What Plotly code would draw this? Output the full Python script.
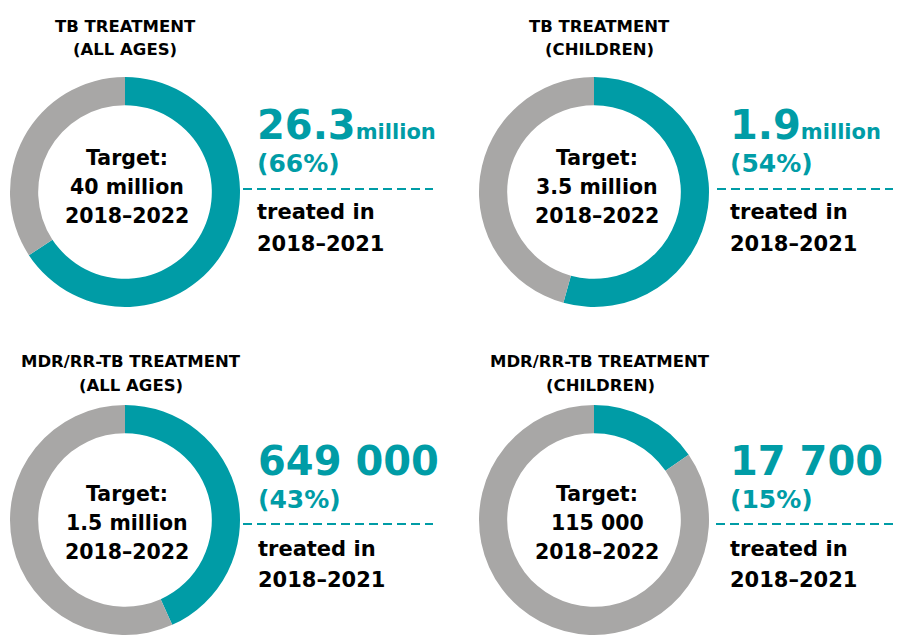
import plotly.graph_objects as go

# the page body adds an 8px margin, so the figure is drawn 8px smaller
PAGE_W, PAGE_H, BODY = 901, 635, 8
W, H = PAGE_W - BODY, PAGE_H - BODY

# data
title_lines = [["TB TREATMENT", "(ALL AGES)"], ["TB TREATMENT", "(CHILDREN)"],
               ["MDR/RR-TB TREATMENT", "(ALL AGES)"], ["MDR/RR-TB TREATMENT", "(CHILDREN)"]]
treated = [26.3e6, 1.9e6, 649000, 17700]
targets = [40e6, 3.5e6, 1.5e6, 115000]
big_labels = ["26.3", "1.9", "649 000", "17 700"]
unit_labels = ["million", "million", "", ""]
pct_labels = ["(66%)", "(54%)", "(43%)", "(15%)"]
target_labels = ["40 million", "3.5 million", "1.5 million", "115 000"]
target_period = "2018–2022"
treated_period = "2018–2021"

TEAL = "#009ca6"
GRAY = "#a8a7a6"
FONT = "DejaVu Sans"

# panel layout, in window pixels
centers = [(125, 192), (594, 192), (125, 520), (594, 520)]
R = 115
row_off = [0, 0, 336, 336]
text_x = [255, 728, 256, 728]
title_x = [125, 599, 131, 600]
centre_x = [127, 597, 127, 597]
dash_x = [(243, 433), (717, 901), (243, 433), (716, 901)]
dash_y = [189, 189, 524, 524]


def px(x):
    return (x - BODY) / W


def py(y):
    return 1 - (y - BODY) / H


fig = go.Figure()


def label(x, y, s, size, color="black", xanchor="center"):
    fig.add_annotation(xref="paper", yref="paper", showarrow=False,
                       x=px(x), y=py(y), text="<b>" + s + "</b>",
                       font=dict(family=FONT, size=size, color=color),
                       xanchor=xanchor, yanchor="middle")


for i in range(4):
    cx, cy = centers[i]
    fig.add_trace(go.Pie(
        values=[treated[i], targets[i] - treated[i]],
        marker=dict(colors=[TEAL, GRAY], line=dict(width=0)),
        hole=0.755, sort=False, direction="clockwise", rotation=0,
        textinfo="none", hoverinfo="skip", showlegend=False,
        domain=dict(x=[px(cx - R), px(cx + R)],
                    y=[max(0, py(cy + R)), min(1, py(cy - R))])))

    off = row_off[i]
    # title
    label(title_x[i], 26 + off, title_lines[i][0], 16.5)
    label(title_x[i], 49.5 + off, title_lines[i][1], 16.5)
    # centre of the donut
    label(centre_x[i], 158 + off, "Target:", 20.5)
    label(centre_x[i], 187 + off, target_labels[i], 20.5)
    label(centre_x[i], 215.5 + off, target_period, 20.5)
    # headline number
    big = big_labels[i]
    if unit_labels[i]:
        big += "<span style='font-size:21px'>" + unit_labels[i] + "</span>"
    label(text_x[i], 125 + off, big, 40, TEAL, "left")
    label(text_x[i], 163.5 + off, pct_labels[i], 25, TEAL, "left")
    label(text_x[i], 212.5 + off, "treated in", 21, xanchor="left")
    label(text_x[i], 244 + off, treated_period, 21, xanchor="left")
    # dashed separator
    x0, x1 = dash_x[i]
    fig.add_shape(type="line", xref="paper", yref="paper",
                  x0=px(x0), x1=min(1, px(x1)), y0=py(dash_y[i]), y1=py(dash_y[i]),
                  line=dict(color=TEAL, width=2, dash="9px,5px"))

fig.update_layout(width=W, height=H, margin=dict(l=0, r=0, t=0, b=0),
                  paper_bgcolor="white", plot_bgcolor="white",
                  font=dict(family=FONT))
fig.write_html("out.html")
